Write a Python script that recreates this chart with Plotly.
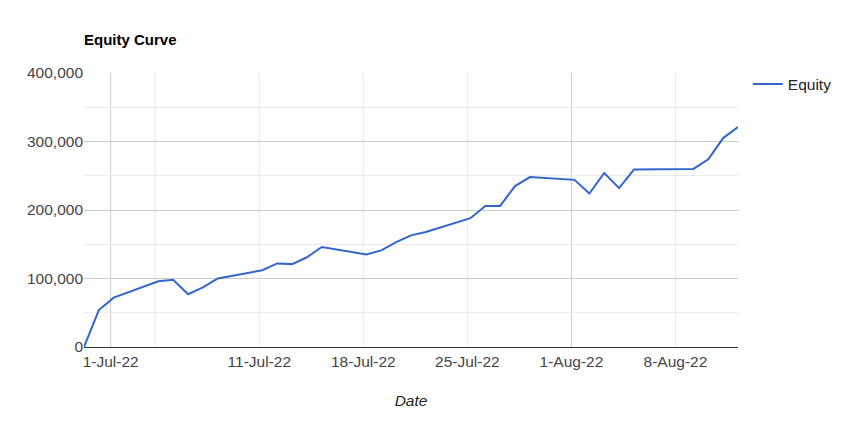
import plotly.graph_objects as go
import pandas as pd

dates = ["2022-06-29","2022-06-30","2022-07-01","2022-07-04","2022-07-05","2022-07-06","2022-07-07","2022-07-08",
         "2022-07-11","2022-07-12","2022-07-13","2022-07-14","2022-07-15","2022-07-18","2022-07-19","2022-07-20",
         "2022-07-21","2022-07-22","2022-07-25","2022-07-26","2022-07-27","2022-07-28","2022-07-29","2022-08-01",
         "2022-08-02","2022-08-03","2022-08-04","2022-08-05","2022-08-09","2022-08-10","2022-08-11","2022-08-12"]
equity = [0, 54000, 72000, 96000, 98000, 77000, 87000, 100000,
          112000, 122000, 121000, 131000, 146000, 135000, 141000, 153000,
          163000, 168000, 188000, 206000, 206000, 235000, 248000, 244000,
          224000, 254000, 232000, 259000, 260000, 274000, 305000, 321000]
tick_dates = ["2022-07-01","2022-07-11","2022-07-18","2022-07-25","2022-08-01","2022-08-08"]
tick_labels = ["1-Jul-22","11-Jul-22","18-Jul-22","25-Jul-22","1-Aug-22","8-Aug-22"]
minor_grid = ["2022-07-04","2022-07-11","2022-07-18","2022-07-25","2022-08-08"]
major_grid = ["2022-07-01","2022-08-01"]

x = pd.to_datetime(dates) + pd.Timedelta(hours=5)

fig = go.Figure(go.Scatter(x=x, y=equity, mode="lines", name="Equity",
                           line=dict(color="#3366cc", width=2)))
shapes = []
for d in minor_grid:
    shapes.append(dict(type="line", xref="x", yref="paper", x0=d, x1=d, y0=0, y1=1,
                       line=dict(color="#ebebeb", width=1), layer="below"))
for d in major_grid:
    shapes.append(dict(type="line", xref="x", yref="paper", x0=d, x1=d, y0=0, y1=1,
                       line=dict(color="#cccccc", width=1), layer="below"))
fig.update_layout(
    width=856, height=432, plot_bgcolor="white", paper_bgcolor="white",
    margin=dict(l=76, r=126, t=65, b=93),
    font=dict(family="Liberation Sans, Arial", size=15.5, color="#444"),
    title=dict(text="<b>Equity Curve</b>", x=76/856, xanchor="left", y=1-32/432, yanchor="middle",
               font=dict(size=15, color="#000")),
    showlegend=True,
    legend=dict(x=1.015, y=1.02, xanchor="left", yanchor="top", font=dict(size=15.5, color="#222")),
    shapes=shapes,
    xaxis=dict(range=[x[0], x[-1]], tickvals=pd.to_datetime(tick_dates), ticktext=tick_labels,
               showgrid=False, zeroline=False, showline=True, linecolor="#333", linewidth=1,
               title=dict(text="<i>Date</i>", font=dict(size=15.5, color="#222"), standoff=26)),
    yaxis=dict(range=[0, 400000], tickvals=[0,100000,200000,300000,400000],
               tickformat=",", gridcolor="#cccccc", zeroline=False, ticks="",
               minor=dict(dtick=50000, showgrid=True, gridcolor="#ebebeb")),
)
fig.write_html("out.html")
